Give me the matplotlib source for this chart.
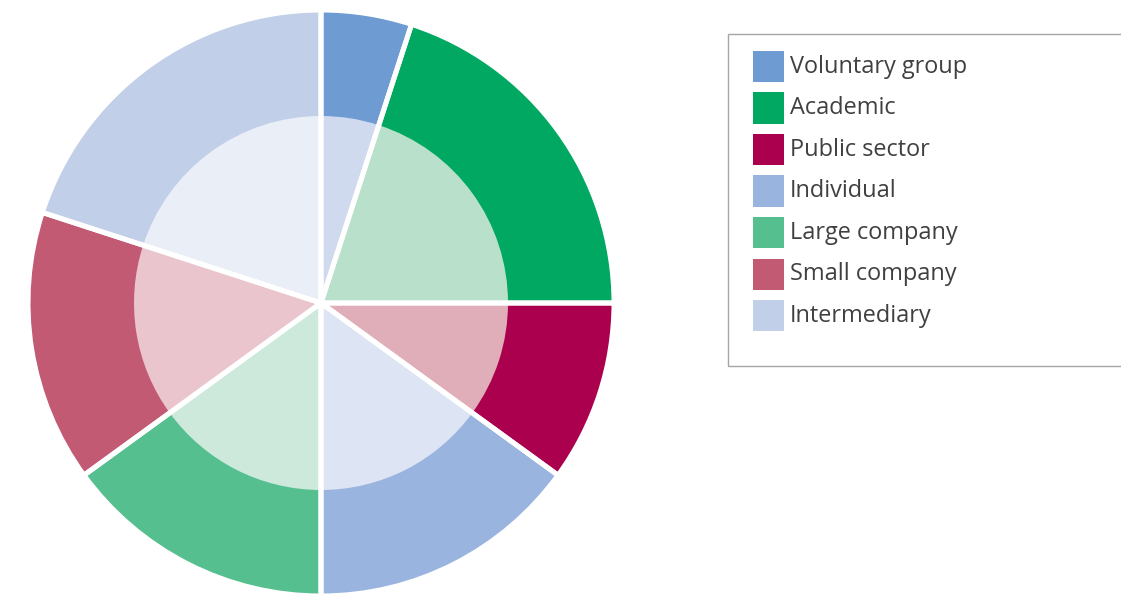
import matplotlib
matplotlib.use("Agg")
import matplotlib.pyplot as plt
from matplotlib.patches import Rectangle

categories = ["Voluntary group", "Academic", "Public sector", "Individual",
              "Large company", "Small company", "Intermediary"]
shares = [5, 20, 10, 15, 15, 15, 20]
colors = ["#6e9bd1", "#00a862", "#ab004e", "#99b4df", "#55bf8f", "#c25a74", "#c2cfe8"]
inner_colors = ["#cfdaee", "#b8e0ca", "#e0aeb8", "#dde4f3", "#cde9db", "#eac5cd", "#e9eef7"]

W, H = 1121, 595
fig = plt.figure(figsize=(W / 100, H / 100), dpi=100)
fig.patch.set_facecolor("white")

cx, cy, R = 321, 303, 293
ax = fig.add_axes([(cx - R) / W, (H - cy - R) / H, 2 * R / W, 2 * R / H])
r_in = 187 / R
ew = 3.6
ax.pie(shares, colors=colors, radius=1.0, startangle=90, counterclock=False,
       wedgeprops=dict(edgecolor="none", linewidth=0))
ax.pie(shares, colors=inner_colors, radius=r_in, startangle=90, counterclock=False,
       wedgeprops=dict(edgecolor="none", linewidth=0))
ax.pie(shares, colors=["none"] * len(shares), radius=1.0, startangle=90, counterclock=False,
       wedgeprops=dict(facecolor="none", edgecolor="white", linewidth=ew))
ax.set_xlim(-1, 1)
ax.set_ylim(-1, 1)
ax.set_aspect("equal")
ax.axis("off")

# legend frame (extends beyond right edge)
fig.patches.append(Rectangle((728 / W, 1 - 366 / H), (1130 - 728) / W, (366 - 34) / H,
                             transform=fig.transFigure, facecolor="white",
                             edgecolor="#a6a6a6", linewidth=1.0, zorder=0))

sq = 31
top0 = 51
step = 41.5
for i, (lab, col) in enumerate(zip(categories, colors)):
    top = top0 + i * step
    fig.patches.append(Rectangle((753 / W, 1 - (top + sq) / H), sq / W, sq / H,
                                 transform=fig.transFigure, facecolor=col,
                                 edgecolor="none", zorder=2))
    fig.text(790 / W, 1 - (top + sq / 2 + 6.5) / H, lab, family="Open Sans",
             size=16.9, color="#404040", va="baseline", ha="left")

fig.savefig("out.png", dpi=100)
